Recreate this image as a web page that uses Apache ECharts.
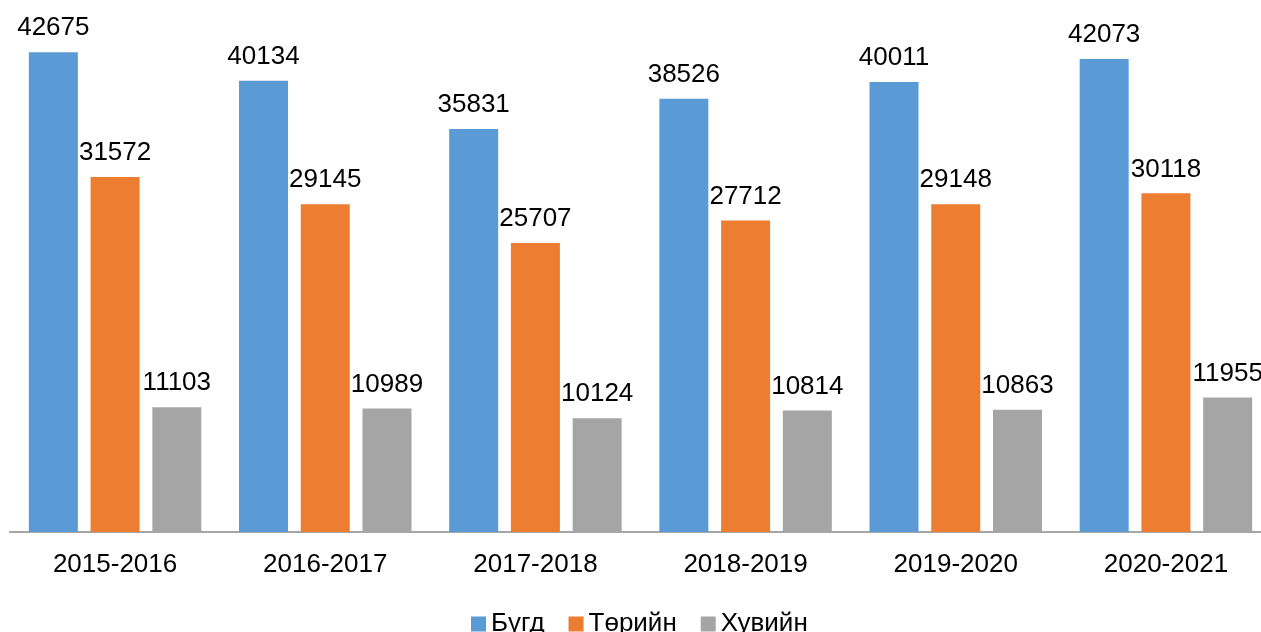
<!DOCTYPE html>
<html>
<head>
<meta charset="utf-8">
<script src="https://cdn.jsdelivr.net/npm/echarts@6/dist/echarts.min.js"></script>
<style>
  html, body { margin: 0; padding: 0; background: #fff; }
  #chart { width: 1261px; height: 632px; }
</style>
</head>
<body>
<div id="chart"></div>
<script>
// хичээлийн жилүүд
var years = ['2015-2016', '2016-2017', '2017-2018', '2018-2019', '2019-2020', '2020-2021'];
var total = [42675, 40134, 35831, 38526, 40011, 42073];
var state = [31572, 29145, 25707, 27712, 29148, 30118];
var priv = [11103, 10989, 10124, 10814, 10863, 11955];
var names = ['Бүгд', 'Төрийн', 'Хувийн'];
var colors = ['#5B9BD5', '#ED7D31', '#A5A5A5'];

var font = 'Liberation Sans, Arial, sans-serif';

function makeSeries(name, data, color) {
    return {
        name: name,
        type: 'bar',
        data: data,
        barWidth: 49,
        barGap: '26%',
        itemStyle: { color: color },
        label: {
            show: true,
            position: 'top',
            distance: 11,
            color: '#000',
            fontSize: 26,
            fontFamily: font
        }
    };
}

var myChart = echarts.init(document.getElementById('chart'));
var option = {
    animation: false,
    color: colors,
    grid: {
        left: 10, width: 1261, top: 26, bottom: 100,
        containLabel: false,
        outerBoundsMode: 'none'
    },
    legend: {
        left: 466,
        top: 606,
        itemWidth: 15,
        itemHeight: 15,
        itemGap: 24,
        icon: 'rect',
        textStyle: { color: '#000', fontSize: 26, fontFamily: font },
        data: names
    },
    xAxis: {
        type: 'category',
        data: years,
        axisLine: { lineStyle: { color: '#A6A6A6', width: 2 } },
        axisTick: { show: false },
        axisLabel: { color: '#000', fontSize: 26, fontFamily: font, margin: 20 }
    },
    yAxis: {
        type: 'value',
        min: 0,
        max: 45000,
        show: false,
        splitLine: { show: false }
    },
    series: [
        makeSeries(names[0], total, colors[0]),
        makeSeries(names[1], state, colors[1]),
        makeSeries(names[2], priv, colors[2])
    ]
};
myChart.setOption(option);
window.onresize = function () {
    myChart.resize();
};
</script>
</body>
</html>
